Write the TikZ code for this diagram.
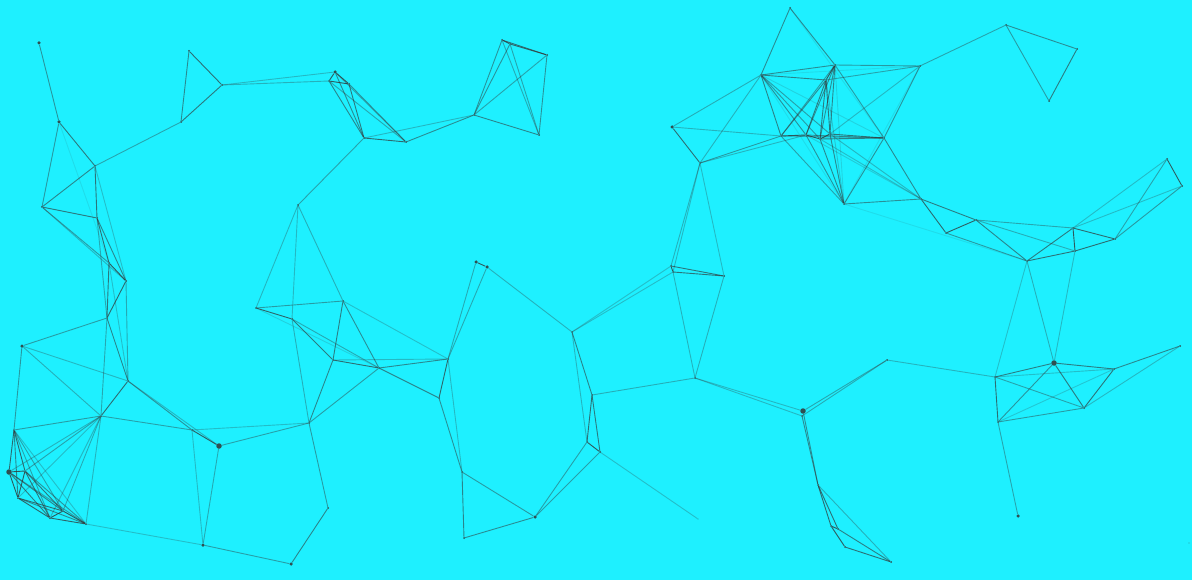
\documentclass[tikz,border=0pt]{standalone}
\usetikzlibrary{calc}
\definecolor{bgc}{RGB}{30,240,255}
\definecolor{inkc}{RGB}{51,51,51}
\tikzset{
  dotn/.style={circle, fill=inkc, inner sep=0pt, minimum size=2pt, fill opacity=0.85},
  bigdot/.style={dotn, minimum size=5.5pt},
  middot/.style={dotn, minimum size=3.5pt},
  tinydot/.style={dotn, minimum size=1.2pt, fill opacity=0.4},
  link/.style={draw=inkc, line width=0.9pt}
}
\begin{document}
\begin{tikzpicture}[x=1pt,y=-1pt]
\fill[bgc] (0,0) rectangle (1192,580);
\useasboundingbox (0,0) rectangle (1192,580);
% nodes
\node[middot] (A1) at (39,43) {};
\node[middot] (A2) at (59,122) {};
\node[dotn] (A3) at (95,166) {};
\node[dotn] (A4) at (42,207) {};
\node[dotn] (A5) at (97,218) {};
\node[dotn] (A6) at (109,263) {};
\node[dotn] (A7) at (126,281) {};
\node[dotn] (A8) at (107,318) {};
\node[dotn] (B1) at (189,51) {};
\node[dotn] (B2) at (222,85) {};
\node[dotn] (B3) at (181,122) {};
\node[middot] (C1) at (335,72) {};
\node[dotn] (C2) at (329,81) {};
\node[dotn] (C3) at (349,84) {};
\node[dotn] (C4) at (364,138) {};
\node[dotn] (C5) at (406,142) {};
\node[dotn] (D) at (298,205) {};
\node[dotn] (E1) at (502,40) {};
\node[dotn] (E2) at (510,44) {};
\node[dotn] (E3) at (547,55) {};
\node[dotn] (E4) at (474,115) {};
\node[dotn] (E5) at (539,135) {};
\node[middot] (F1) at (476,262) {};
\node[middot] (F2) at (487,267) {};
\node[dotn] (G1) at (790,8) {};
\node[dotn] (G2) at (761,75) {};
\node[middot] (G3) at (672,127) {};
\node[dotn] (G4) at (700,163) {};
\node[dotn] (G5) at (781,136) {};
\node[dotn] (G6) at (835,65) {};
\node[dotn] (G7) at (826,80) {};
\node[dotn] (G8) at (920,66) {};
\node[dotn] (G9) at (806,135) {};
\node[dotn] (G10) at (820,139) {};
\node[dotn] (G11) at (830,134) {};
\node[dotn] (G12) at (884,138) {};
\node[dotn] (H1) at (1006,25) {};
\node[dotn] (H2) at (1077,49) {};
\node[dotn] (H3) at (1049,101) {};
\node[dotn] (I1) at (844,204) {};
\node[dotn] (I2) at (921,199) {};
\node[dotn] (I3) at (946,233) {};
\node[dotn] (I4) at (976,220) {};
\node[dotn] (I5) at (1027,261) {};
\node[dotn] (I6) at (1073,228) {};
\node[dotn] (I7) at (1075,251) {};
\node[dotn] (I8) at (1115,239) {};
\node[dotn] (I9) at (1167,159) {};
\node[dotn] (I10) at (1182,186) {};
\node[bigdot] (J1) at (803,411) {};
\node[dotn] (J2) at (802,416) {};
\node[dotn] (J3) at (887,360) {};
\node[dotn] (J4) at (818,485) {};
\node[dotn] (J5) at (831,526) {};
\node[dotn] (J8) at (838,529) {};
\node[dotn] (J6) at (845,547) {};
\node[dotn] (J7) at (891,562) {};
\node[dotn] (K1) at (995,377) {};
\node[bigdot] (K2) at (1054,363) {};
\node[dotn] (K3) at (1114,369) {};
\node[dotn] (K4) at (1084,408) {};
\node[dotn] (K5) at (998,422) {};
\node[dotn] (K6) at (1180,346) {};
\node[middot] (K7) at (1018,516) {};
\node[dotn] (L1) at (671,266) {};
\node[dotn] (L2) at (673,272) {};
\node[dotn] (L3) at (724,276) {};
\node[dotn] (L4) at (695,378) {};
\node[dotn] (M1) at (572,332) {};
\node[dotn] (M2) at (592,395) {};
\node[dotn] (M3) at (587,442) {};
\node[dotn] (M4) at (600,452) {};
\node[tinydot] (M5) at (698,519) {};
\node[middot] (N1) at (535,517) {};
\node[dotn] (N2) at (464,538) {};
\node[dotn] (N3) at (462,472) {};
\node[dotn] (O1) at (439,398) {};
\node[dotn] (O2) at (448,359) {};
\node[dotn] (P1) at (256,308) {};
\node[dotn] (P2) at (292,319) {};
\node[dotn] (P3) at (343,301) {};
\node[dotn] (P4) at (333,360) {};
\node[dotn] (P5) at (379,368) {};
\node[dotn] (P6) at (309,423) {};
\node[middot] (Q1) at (22,346) {};
\node[dotn] (Q2) at (128,381) {};
\node[dotn] (Q3) at (101,416) {};
\node[dotn] (R1) at (14,430) {};
\node[bigdot] (R2) at (9,472) {};
\node[dotn] (R3) at (25,471) {};
\node[dotn] (R4) at (18,498) {};
\node[dotn] (R5) at (50,518) {};
\node[dotn] (R6) at (63,511) {};
\node[dotn] (R7) at (86,524) {};
\node[dotn] (S1) at (192,430) {};
\node[bigdot] (S2) at (219,446) {};
\node[middot] (S3) at (203,545) {};
\node[middot] (S4) at (291,564) {};
\node[dotn] (S5) at (328,508) {};
\node[tinydot] (Z) at (1189,543) {};
% links
\foreach \a/\b in {A1/A2, A2/A3, A2/A4, A2/A6, A3/A4, A3/A5, A3/A7, A3/B3, A4/A5, A4/A7, A4/A6, A5/A6, A5/A7, A5/A8, A6/A7, A6/A8, A7/A8, A7/Q2, A6/Q2, A8/Q1, A8/Q2, A8/Q3, Q1/Q2, Q1/Q3, Q1/R1, Q2/Q3, Q3/R1,
Q3/R2, Q3/R3, Q3/R4, Q3/R5, Q3/R6, Q3/R7,
R1/R2, R1/R3, R1/R4, R1/R5, R1/R6, R1/R7, R2/R3, R2/R4, R2/R5, R2/R6, R2/R7, R3/R4, R3/R5, R3/R6, R3/R7, R4/R5, R4/R6, R4/R7, R5/R6, R5/R7, R6/R7,
R7/S3, Q2/S1, Q2/S2, Q3/S1, S1/S2, S1/S3, S2/S3, S1/P6, S2/P6, S3/S4, S4/S5, S5/P6,
P6/P2, P6/P4, P6/P5, P1/P2, P1/P3, P1/P5, P2/P4, P2/P5, P3/P4, P3/P5, P3/O2, P4/P5, P4/O2, P5/O2, P5/O1, D/P1, D/P2, D/P3, D/C4,
B1/B2, B1/B3, B2/B3, B2/C1, B2/C2, C1/C2, C1/C3, C2/C3, C1/C4, C2/C4, C3/C4, C1/C5, C2/C5, C3/C5, C4/C5, C4/E4, C5/E4,
E1/E2, E1/E3, E2/E3, E1/E4, E2/E4, E1/E5, E2/E5, E3/E4, E3/E5, E4/E5,
O1/O2, O2/F1, O2/F2, O1/N3, O2/N3, N3/N2, N3/N1, N2/N1, N1/M3, N1/M4, M1/M2, M1/M3, M2/M3, M2/M4, M3/M4, M4/M5, M2/L4, M1/F2, F1/F2, M1/L1, M1/L2,
L1/L2, L1/L3, L2/L3, L1/G4, L2/G4, L3/G4, L2/L4, L3/L4, L4/J1, L4/J2,
G3/G4, G3/G2, G3/G5, G4/G2, G4/G5, G4/G9,
G1/G2, G1/G6, G1/G12, G2/G6, G2/G7, G2/G8, G2/G5, G2/G9, G2/G10, G2/G11, G2/G12, G2/I1,
G6/G7, G6/G8, G6/G5, G6/G9, G6/G10, G6/G11, G6/G12, G6/I1, G7/G8, G7/G5, G7/G9, G7/G10, G7/G11, G7/I1, G8/G12, G8/G11, G8/I1, G8/H1,
G5/G9, G9/G10, G10/G11, G5/G12, G11/G12, G9/G12, G10/G12, G5/I1, G9/I1, G10/I1, G11/I1, G12/I1, G12/I2, G9/I2, G10/I2, G11/I2,
H1/H2, H1/H3, H2/H3,
I1/I2, I1/I5, I2/I3, I2/I4, I3/I4, I3/I5, I4/I5, I4/I6, I4/I7, I5/I6, I5/I7, I6/I7, I6/I8, I7/I8, I6/I9, I6/I10, I8/I9, I8/I10, I9/I10,
I5/K1, I5/K2, I7/K2,
K1/K2, K1/K3, K1/K4, K1/K5, K2/K3, K2/K4, K2/K5, K3/K4, K3/K5, K3/K6, K4/K6, K4/K5, K5/K7,
J3/K1, J3/J1, J3/J2,
J1/J4, J2/J4, J4/J5, J4/J8, J5/J8, J5/J6, J8/J7, J6/J7, J4/J7}
{
  \path let \p1=($(\a)-(\b)$), \n1={veclen(\x1,\y1)} in
    \pgfextra{\pgfmathsetmacro\op{max(0.1,min(0.8,0.95*(1-\n1/165)))}\xdef\gop{\op}};
  \draw[link, draw opacity=\gop] (\a) -- (\b);
}
\end{tikzpicture}
\end{document}
